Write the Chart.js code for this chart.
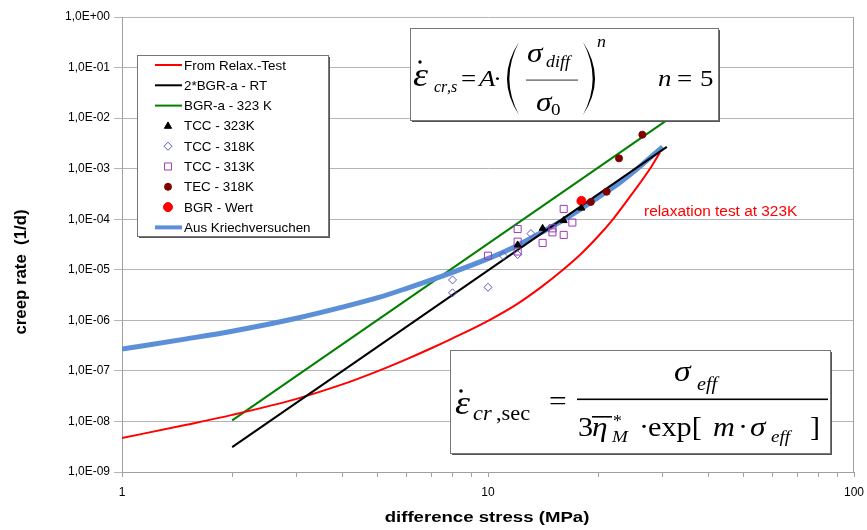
<!DOCTYPE html>
<html>
<head>
<meta charset="utf-8">
<script src="https://cdn.jsdelivr.net/npm/chart.js@4"></script>
<style>
  html, body { margin: 0; padding: 0; background: #fff; }
</style>
</head>
<body>
<canvas id="c" width="867" height="530"></canvas>
<script>
// axis ticks
const X_TICKS  = [1,2,3,4,5,6,7,8,9,10,20,30,40,50,60,70,80,90,100];
const X_LABELS = [1, 10, 100];
const Y_TICKS  = [1e-9,1e-8,1e-7,1e-6,1e-5,1e-4,1e-3,1e-2,1e-1,1];

// From Relax.-Test
const relaxX = [1, 1.5, 2, 3, 4, 5, 6, 7, 8, 10, 12, 14, 16, 18, 20, 22, 25, 28, 29.5];
const relaxY = [4.7e-9, 8.6e-9, 1.35e-8, 2.8e-8, 5.4e-8, 9.9e-8, 1.71e-7, 2.8e-7, 4.4e-7, 9.8e-7,
                2.1e-6, 4.6e-6, 9.9e-6, 2.1e-5, 4.6e-5, 1.02e-4, 3.5e-4, 1.12e-3, 2.1e-3];
// 2*BGR-a - RT
const bgr2X = [2, 30.8];
const bgr2Y = [3.1e-9, 2.7e-3];
// BGR-a - 323 K
const bgrAX = [2, 33];
const bgrAY = [1.05e-8, 1.28e-2];
// Aus Kriechversuchen
const kriechX = [1, 1.5, 2, 3, 4, 5, 6, 8, 10, 12, 14, 16, 18, 20, 23, 26, 30];
const kriechY = [2.7e-7, 4.3e-7, 6.1e-7, 1.1e-6, 1.82e-6, 2.8e-6, 4.3e-6, 8.9e-6, 1.66e-5, 3.0e-5,
                 5.5e-5, 9.5e-5, 1.62e-4, 2.7e-4, 5.4e-4, 1.1e-3, 2.7e-3];
// measurements
const tcc323X = [12.05, 14.1, 16.1, 18.0];
const tcc323Y = [3.1e-5, 6.6e-5, 9.4e-5, 1.66e-4];
const tcc318X = [8.0, 8.0, 10.0, 11.0, 12.05, 13.1];
const tcc318Y = [6.3e-6, 3.5e-6, 4.5e-6, 1.9e-5, 2.0e-5, 5.2e-5];
const tcc313X = [10.0, 12.05, 12.05, 12.05, 14.1, 15.0, 15.0, 16.1, 16.1, 17.0];
const tcc313Y = [1.9e-5, 6.4e-5, 3.6e-5, 2.3e-5, 3.4e-5, 6.6e-5, 5.5e-5, 1.6e-4, 4.9e-5, 8.6e-5];
const tec318X = [19.1, 21.1, 22.8, 26.4];
const tec318Y = [2.2e-4, 3.5e-4, 1.6e-3, 4.7e-3];
const bgrWX = [18.0];
const bgrWY = [2.3e-4];

const pts = (xs, ys) => xs.map((x, i) => ({ x, y: ys[i] }));
const SANS  = '"Liberation Sans", Arial, sans-serif';
const SERIF = '"Liberation Serif", "Times New Roman", serif';

function lineSet(label, xs, ys, color, width, order) {
  return { label, data: pts(xs, ys), showLine: true, borderColor: color, backgroundColor: color,
           borderWidth: width, pointRadius: 0, cubicInterpolationMode: 'monotone', order, legendLine: true };
}
function markSet(label, xs, ys, style, r, fill, stroke) {
  return { label, data: pts(xs, ys), showLine: false, pointStyle: style, pointRadius: r,
           pointBackgroundColor: fill, pointBorderColor: stroke, pointBorderWidth: 1,
           backgroundColor: fill, borderColor: stroke, order: 0 };
}

const datasets = [
  lineSet('From Relax.-Test', relaxX, relaxY, '#ff0000', 2, 3),
  lineSet('2*BGR-a - RT', bgr2X, bgr2Y, '#000000', 2, 1),
  lineSet('BGR-a - 323 K', bgrAX, bgrAY, '#008000', 2, 3),
  markSet('TCC - 323K', tcc323X, tcc323Y, 'triangle', 4, '#000000', '#000000'),
  markSet('TCC - 318K', tcc318X, tcc318Y, 'rectRot', 4, 'rgba(0,0,0,0)', '#5a5ac8'),
  markSet('TCC - 313K', tcc313X, tcc313Y, 'rect', 5, 'rgba(0,0,0,0)', '#9c3cb4'),
  markSet('TEC - 318K', tec318X, tec318Y, 'circle', 3.5, '#800000', '#800000'),
  markSet('BGR - Wert', bgrWX, bgrWY, 'circle', 4.5, '#ff0000', '#ff0000'),
  lineSet('Aus Kriechversuchen', kriechX, kriechY, '#5b8fd8', 5, 2)
];

function drawMarker(ctx, style, x, y, r, fill, stroke) {
  ctx.save();
  ctx.beginPath();
  if (style === 'circle') ctx.arc(x, y, r, 0, Math.PI * 2);
  else if (style === 'rect') { const s = r * Math.SQRT1_2; ctx.rect(x - s, y - s, 2 * s, 2 * s); }
  else if (style === 'rectRot') { const s = r; ctx.moveTo(x, y - s); ctx.lineTo(x + s, y); ctx.lineTo(x, y + s); ctx.lineTo(x - s, y); ctx.closePath(); }
  else if (style === 'triangle') { ctx.moveTo(x, y - r); ctx.lineTo(x + r * 0.9, y + r * 0.6); ctx.lineTo(x - r * 0.9, y + r * 0.6); ctx.closePath(); }
  ctx.fillStyle = fill; ctx.fill();
  ctx.strokeStyle = stroke; ctx.lineWidth = 1; ctx.stroke();
  ctx.restore();
}

function boxWithShadow(ctx, x, y, w, h) {
  ctx.fillStyle = '#555';
  ctx.fillRect(x + 2, y + 2, w, h);
  ctx.fillStyle = '#fff';
  ctx.fillRect(x, y, w, h);
  ctx.strokeStyle = '#777';
  ctx.lineWidth = 1;
  ctx.strokeRect(x + 0.5, y + 0.5, w, h);
}

// stretched text (the original picture is a bit wider than tall)
function sText(ctx, s, x, y, font, sx) {
  ctx.save();
  ctx.translate(x, y);
  ctx.scale(sx, 1);
  ctx.font = font;
  ctx.fillText(s, 0, 0);
  ctx.restore();
}
function t(ctx, s, x, y, size, italic, sx) {
  sText(ctx, s, x, y, (italic ? 'italic ' : '') + size + 'px ' + SERIF, sx || 1.12);
}
function paren(ctx, x, top, bottom, left) {
  const mid = (top + bottom) / 2;
  const xe = left ? x + 12 : x;          // end points
  const xm = left ? x : x + 12;          // extreme at mid height
  const th = left ? 2.4 : -2.4;
  ctx.beginPath();
  ctx.moveTo(xe, top);
  ctx.quadraticCurveTo(2 * xm - xe, mid, xe, bottom);
  ctx.quadraticCurveTo(2 * (xm + th) - xe, mid, xe, top);
  ctx.closePath();
  ctx.fill();
}
function dot(ctx, x, y, r) {
  ctx.beginPath(); ctx.arc(x, y, r, 0, Math.PI * 2); ctx.fill();
}

const extras = {
  id: 'extras',
  beforeDraw(chart) {
    const ctx = chart.ctx;
    ctx.save();
    ctx.fillStyle = '#fff';
    ctx.fillRect(0, 0, chart.width, chart.height);
    ctx.restore();
  },
  afterDatasetsDraw(chart) {
    const ctx = chart.ctx;
    const a = chart.chartArea;
    ctx.save();
    // plot frame (right side)
    ctx.strokeStyle = '#a0a0a0';
    ctx.lineWidth = 1;
    ctx.beginPath();
    ctx.moveTo(a.right - 0.5, a.top);
    ctx.lineTo(a.right - 0.5, a.bottom);
    ctx.stroke();

    // legend
    boxWithShadow(ctx, 137, 55, 191, 181);
    ctx.textBaseline = 'middle';
    chart.data.datasets.forEach((ds, i) => {
      const yy = 65 + i * 20.3;
      if (ds.legendLine) {
        ctx.strokeStyle = ds.borderColor;
        ctx.lineWidth = ds.borderWidth === 5 ? 4 : 2;
        ctx.beginPath(); ctx.moveTo(155, yy); ctx.lineTo(182, yy); ctx.stroke();
      } else {
        drawMarker(ctx, ds.pointStyle, 168, yy, ds.pointRadius, ds.pointBackgroundColor, ds.pointBorderColor);
      }
      ctx.fillStyle = '#000';
      sText(ctx, ds.label, 184, yy + 1, '13px ' + SANS, 1.03);
    });

    // annotation
    ctx.fillStyle = '#ff0000';
    ctx.textBaseline = 'alphabetic';
    sText(ctx, 'relaxation test at 323K', 644, 216, '14px ' + SANS, 1.1);

    // formula 1
    boxWithShadow(ctx, 410, 28, 308, 92);
    ctx.fillStyle = '#000';
    t(ctx, 'ε', 413, 86, 34, true);
    dot(ctx, 420, 62, 1.7);
    t(ctx, 'cr', 434, 92, 16, true, 1);
    t(ctx, ',s', 447, 92, 16, true, 1);
    t(ctx, '=', 461, 86, 24, false);
    t(ctx, 'A', 479, 86, 24, true);
    t(ctx, '·', 493, 86, 24, false);
    paren(ctx, 507, 42, 115, true);
    t(ctx, 'σ', 527, 62, 28, true);
    t(ctx, 'diff', 546, 67, 16, true);
    ctx.fillStyle = '#555';
    ctx.fillRect(526, 79.5, 52, 1.2);
    ctx.fillStyle = '#000';
    t(ctx, 'σ', 536, 111, 28, true);
    t(ctx, '0', 551, 115, 17, false);
    paren(ctx, 583, 42, 115, false);
    t(ctx, 'n', 597, 47, 16, true);
    t(ctx, 'n', 658, 86, 24, true);
    t(ctx, '=', 677, 86, 24, false);
    t(ctx, '5', 700, 86, 24, false);

    // formula 2
    boxWithShadow(ctx, 450, 350, 380, 103);
    ctx.fillStyle = '#000';
    t(ctx, 'ε', 455, 414, 34, true);
    dot(ctx, 461, 391, 1.8);
    t(ctx, 'cr', 473, 420, 20, true);
    t(ctx, ',sec', 496, 420, 20, false);
    t(ctx, '=', 549, 410, 28, false);
    ctx.fillRect(577, 398.5, 251, 1.6);
    t(ctx, 'σ', 674, 381, 30, true);
    t(ctx, 'eff', 697, 390, 18, true);
    t(ctx, '3', 578, 436, 27, false);
    t(ctx, 'η', 592, 436, 28, true);
    ctx.fillRect(592, 416, 20, 1.6);
    t(ctx, '*', 613, 426, 16, false);
    t(ctx, 'M', 612, 442, 17, true);
    t(ctx, '·', 639, 436, 27, false);
    t(ctx, 'exp[', 648, 436, 27, false);
    t(ctx, 'm', 713, 436, 27, true);
    t(ctx, '·', 738, 436, 27, false);
    t(ctx, 'σ', 750, 436, 28, true);
    t(ctx, 'eff', 771, 442, 17, true);
    t(ctx, ']', 810, 436, 27, false);

    // axis titles
    ctx.fillStyle = '#000';
    ctx.textAlign = 'center';
    ctx.textBaseline = 'middle';
    sText(ctx, 'difference stress (MPa)', 487, 518, 'bold 15px ' + SANS, 1.24);
    ctx.translate(22, 272);
    ctx.rotate(-Math.PI / 2);
    sText(ctx, 'creep rate  (1/d)', 0, 0, 'bold 16px ' + SANS, 1.05);
    ctx.restore();
  }
};

function expLabel(v) {
  const e = Math.round(Math.log10(v));
  return '1,0E' + (e < 0 ? '-' : '+') + String(Math.abs(e)).padStart(2, '0');
}

new Chart(document.getElementById('c'), {
  type: 'scatter',
  data: { datasets },
  plugins: [extras],
  options: {
    responsive: false,
    animation: false,
    layout: { padding: { left: 0, right: 13, top: 17, bottom: 0 } },
    plugins: { legend: { display: false }, tooltip: { enabled: false } },
    scales: {
      x: {
        type: 'logarithmic', min: 1, max: 100,
        afterBuildTicks: s => { s.ticks = X_TICKS.map(v => ({ value: v })); },
        afterFit: s => { s.height = 58; s.paddingLeft = 0; s.paddingRight = 0; },
        ticks: {
          autoSkip: false, maxRotation: 0, padding: 8, color: '#000',
          font: { family: SANS, size: 12 },
          callback: v => X_LABELS.includes(v) ? String(v) : ''
        },
        grid: { drawOnChartArea: false, drawTicks: true, tickLength: 5, color: '#a0a0a0' },
        border: { color: '#a0a0a0' }
      },
      y: {
        type: 'logarithmic', min: 1e-9, max: 1,
        afterBuildTicks: s => { s.ticks = Y_TICKS.map(v => ({ value: v })); },
        afterFit: s => { s.width = 122; s.paddingTop = 0; s.paddingBottom = 0; },
        ticks: {
          autoSkip: false, padding: 4, color: '#000',
          font: { family: SANS, size: 12 },
          callback: v => expLabel(v)
        },
        grid: { color: '#b4b4b4', tickLength: 8 },
        border: { color: '#a0a0a0' }
      }
    }
  }
});
</script>
</body>
</html>
